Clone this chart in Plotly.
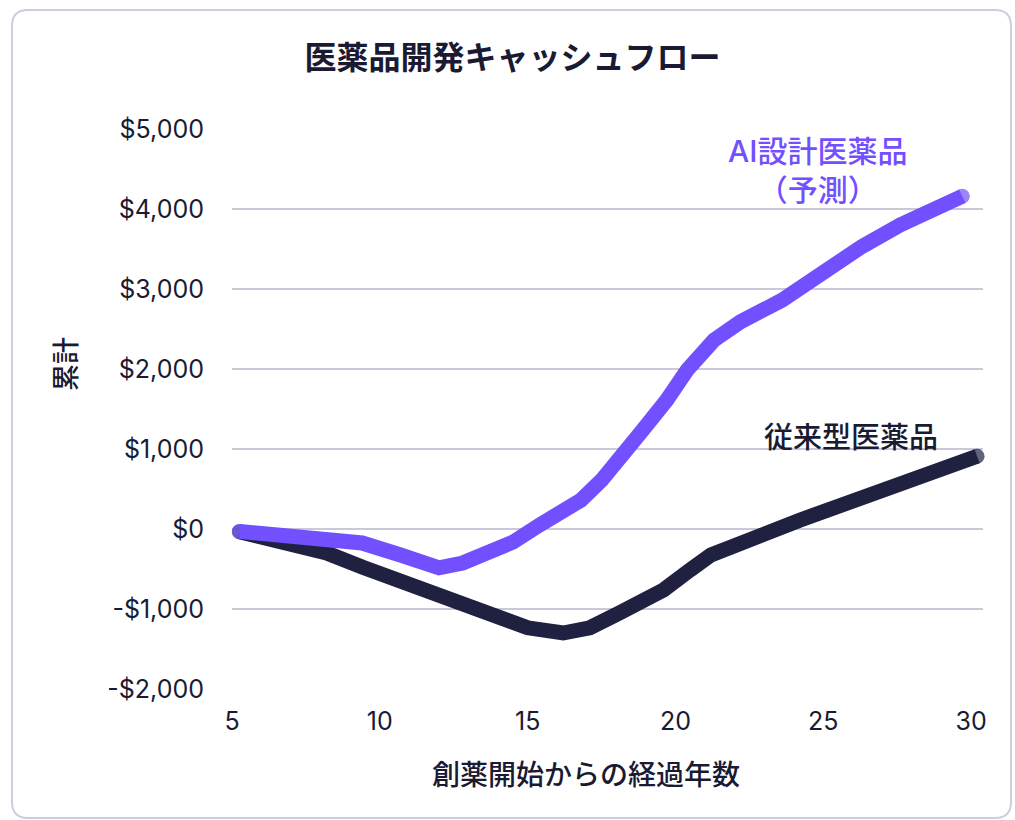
import plotly.graph_objects as go

# Cumulative cash flow (USD millions) by years since drug discovery start
ai_years = [5.25, 6.9, 8.2, 9.4, 10.7, 11.4, 12.0, 12.8, 13.6, 14.5, 15.4, 16.8,
            17.5, 18.1, 18.9, 19.7, 20.4, 21.3, 22.2, 23.6, 25.0, 26.3, 27.6, 28.8, 29.7]
ai_cash = [-30, -75, -110, -175, -325, -410, -485, -425, -325, -165, 50, 360,
           610, 860, 1240, 1610, 1990, 2360, 2590, 2860, 3220, 3530, 3800, 4000, 4160]

trad_years = [5.25, 6.9, 8.2, 9.4, 10.9, 13.0, 15.0, 16.2, 17.1, 18.1, 19.6,
              20.5, 21.2, 24.2, 27.4, 30.2]
trad_cash = [-35, -160, -300, -475, -675, -925, -1235, -1300, -1235, -1050, -760,
             -510, -325, 110, 525, 910]

x_ticks = [5, 10, 15, 20, 25, 30]
y_ticks = [-2000, -1000, 0, 1000, 2000, 3000, 4000, 5000]
y_tick_text = ["-$2,000", "-$1,000", "$0", "$1,000", "$2,000", "$3,000", "$4,000", "$5,000"]

PURPLE = "#7350FF"
NAVY = "#202040"
TEXT = "#1A1A33"
GRID = "#C9C9DA"
FONT = "Inter, 'Noto Sans CJK JP', sans-serif"

W, H = 1015, 820
ML, MR, MT, MB = 232, 32, 129, 131
PW, PH = W - ML - MR, H - MT - MB


def px_x(px):
    return (px - ML) / PW


def px_y(py):
    return (H - MB - py) / PH


def rounded_rect(x0, y0, x1, y1, r):
    # path in paper coordinates built from pixel positions
    rx, ry = r / PW, r / PH
    X0, X1 = px_x(x0), px_x(x1)
    Y0, Y1 = px_y(y0), px_y(y1)  # Y0 top, Y1 bottom
    return (f"M {X0 + rx},{Y0} L {X1 - rx},{Y0} Q {X1},{Y0} {X1},{Y0 - ry} "
            f"L {X1},{Y1 + ry} Q {X1},{Y1} {X1 - rx},{Y1} "
            f"L {X0 + rx},{Y1} Q {X0},{Y1} {X0},{Y1 + ry} "
            f"L {X0},{Y0 - ry} Q {X0},{Y0} {X0 + rx},{Y0} Z")


def end_sizes(n, s):
    return [s] + [0] * (n - 2) + [s]


LW = 15

fig = go.Figure()
fig.add_trace(go.Scatter(
    x=trad_years, y=trad_cash, mode="lines+markers",
    line=dict(color=NAVY, width=LW),
    marker=dict(color=NAVY, size=end_sizes(len(trad_years), LW), line=dict(width=0)),
    hoverinfo="skip", showlegend=False, cliponaxis=False,
))
fig.add_trace(go.Scatter(
    x=ai_years, y=ai_cash, mode="lines+markers",
    line=dict(color=PURPLE, width=LW),
    marker=dict(color=PURPLE, size=end_sizes(len(ai_years), LW), line=dict(width=0)),
    hoverinfo="skip", showlegend=False, cliponaxis=False,
))

fig.add_annotation(x=24.8, y=4487, xref="x", yref="y", showarrow=False,
                   xanchor="center", yanchor="middle",
                   text="AI設計医薬品<br>（予測）", align="center",
                   font=dict(family=FONT, size=30, color=PURPLE, weight=500))
fig.add_annotation(x=25.94, y=1150, xref="x", yref="y", showarrow=False,
                   xanchor="center", yanchor="middle",
                   text="従来型医薬品", align="center",
                   font=dict(family=FONT, size=29, color=TEXT, weight=500))

# axis titles
fig.add_annotation(x=px_x(586), y=px_y(775), xref="paper", yref="paper",
                   showarrow=False, xanchor="center", yanchor="middle",
                   text="創薬開始からの経過年数",
                   font=dict(family=FONT, size=28, color=TEXT, weight=500))
fig.add_annotation(x=px_x(66), y=px_y(364), xref="paper", yref="paper",
                   showarrow=False, xanchor="center", yanchor="middle",
                   text="累計", textangle=-90,
                   font=dict(family=FONT, size=27, color=TEXT, weight=500))

fig.add_shape(type="path", xref="paper", yref="paper",
              path=rounded_rect(12, 10, 1011, 818, 16),
              line=dict(color="#CDCDDC", width=2), fillcolor="rgba(0,0,0,0)",
              layer="below")

fig.update_layout(
    width=W, height=H,
    margin=dict(l=ML, r=MR, t=MT, b=MB),
    paper_bgcolor="white", plot_bgcolor="white",
    title=dict(text="医薬品開発キャッシュフロー", x=0.505, xanchor="center",
               y=1 - 58 / H, yanchor="middle",
               font=dict(family=FONT, size=32, color=TEXT, weight=600)),
    font=dict(family=FONT, color=TEXT),
    xaxis=dict(range=[5, 30.4], tickvals=x_ticks, showgrid=False, zeroline=False,
               showline=False, ticks="outside", ticklen=10,
               tickcolor="rgba(0,0,0,0)",
               tickfont=dict(family=FONT, size=25, color=TEXT)),
    yaxis=dict(range=[-2000, 5000], tickvals=y_ticks, ticktext=y_tick_text,
               showgrid=True, gridcolor=GRID, gridwidth=2, zeroline=False,
               showline=False, ticks="outside", ticklen=22,
               tickcolor="rgba(0,0,0,0)",
               tickfont=dict(family=FONT, size=25, color=TEXT)),
)

fig.write_html("out.html")
